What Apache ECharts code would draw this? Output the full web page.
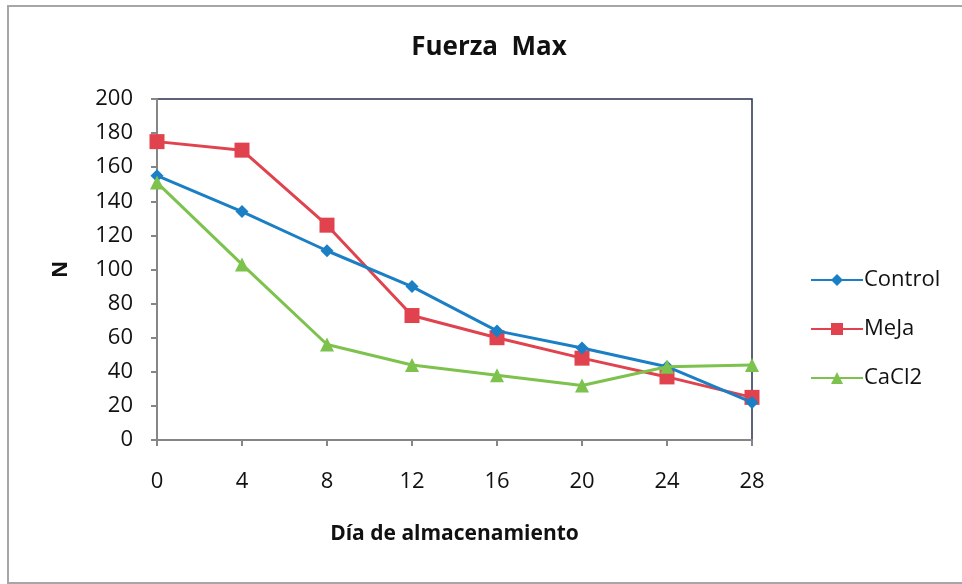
<!DOCTYPE html>
<html>
<head>
<meta charset="utf-8">
<title>Fuerza Max</title>
<script src="https://cdn.jsdelivr.net/npm/echarts@6/dist/echarts.min.js"></script>
<style>
  html, body { margin: 0; padding: 0; background: #fff; }
  #main { width: 962px; height: 584px; }
</style>
</head>
<body>
<div id="main"></div>
<script>
// datos
var dias = [0, 4, 8, 12, 16, 20, 24, 28];
var control = [155, 134, 111, 90, 64, 54, 43, 22];
var meja = [175, 170, 126, 73, 60, 48, 37, 25];
var cacl2 = [151, 103, 56, 44, 38, 32, 43, 44];

function pares(vals) {
  return dias.map(function (d, i) { return [d, vals[i]]; });
}

var fuente = '"Open Sans", "DejaVu Sans", sans-serif';
var chart = echarts.init(document.getElementById('main'));

var option = {
  animation: false,
  backgroundColor: '#fff',
  title: {
    text: 'Fuerza  Max',
    left: 484,
    textAlign: 'center',
    top: 30,
    textStyle: { fontFamily: fuente, fontSize: 26, fontWeight: 'bold', color: '#111' }
  },
  graphic: [{
    type: 'rect',
    shape: { x: 8, y: 6, width: 960, height: 577 },
    style: { fill: 'none', stroke: '#a6a6a6', lineWidth: 2 },
    silent: true
  }],
  legend: {
    orient: 'vertical',
    left: 805,
    top: 264,
    itemWidth: 52,
    itemHeight: 15,
    itemGap: 27,
    textStyle: { fontFamily: fuente, fontSize: 22, color: '#111', padding: [0, 0, 0, -4] },
    data: ['Control', 'MeJa', 'CaCl2']
  },
  grid: {
    left: 157,
    right: 210,
    top: 99,
    bottom: 144,
    show: true,
    borderColor: '#27314d',
    borderWidth: 1.5
  },
  xAxis: {
    type: 'value',
    min: 0,
    max: 28,
    interval: 4,
    name: 'Día de almacenamiento',
    nameLocation: 'middle',
    nameGap: 84,
    nameTextStyle: { fontFamily: fuente, fontSize: 21, fontWeight: 'bold', color: '#111' },
    axisLine: { lineStyle: { color: '#868686', width: 2 } },
    axisTick: { show: true, inside: false, length: 6, lineStyle: { color: '#868686', width: 2 } },
    axisLabel: { fontFamily: fuente, fontSize: 22, color: '#111', margin: 31 },
    splitLine: { show: false }
  },
  yAxis: {
    type: 'value',
    min: 0,
    max: 200,
    interval: 20,
    name: 'N',
    nameLocation: 'middle',
    nameGap: 85,
    nameRotate: 90,
    nameTextStyle: { fontFamily: fuente, fontSize: 21, fontWeight: 'bold', color: '#111' },
    axisLine: { show: true, lineStyle: { color: '#868686', width: 2 } },
    axisTick: { show: true, inside: false, length: 6, lineStyle: { color: '#868686', width: 2 } },
    axisLabel: { fontFamily: fuente, fontSize: 22, color: '#111', margin: 24 },
    splitLine: { show: false }
  },
  series: [{
    name: 'Control',
    type: 'line',
    data: pares(control),
    symbol: 'diamond',
    symbolSize: 13,
    color: '#1b7fc6',
    lineStyle: { width: 3 },
    z: 3
  }, {
    name: 'MeJa',
    type: 'line',
    data: pares(meja),
    symbol: 'rect',
    symbolSize: 15,
    color: '#e0424e',
    lineStyle: { width: 3 },
    z: 2
  }, {
    name: 'CaCl2',
    type: 'line',
    data: pares(cacl2),
    symbol: 'triangle',
    symbolSize: 14,
    color: '#7dc24d',
    lineStyle: { width: 3 },
    z: 4
  }]
};

chart.setOption(option);
</script>
</body>
</html>
